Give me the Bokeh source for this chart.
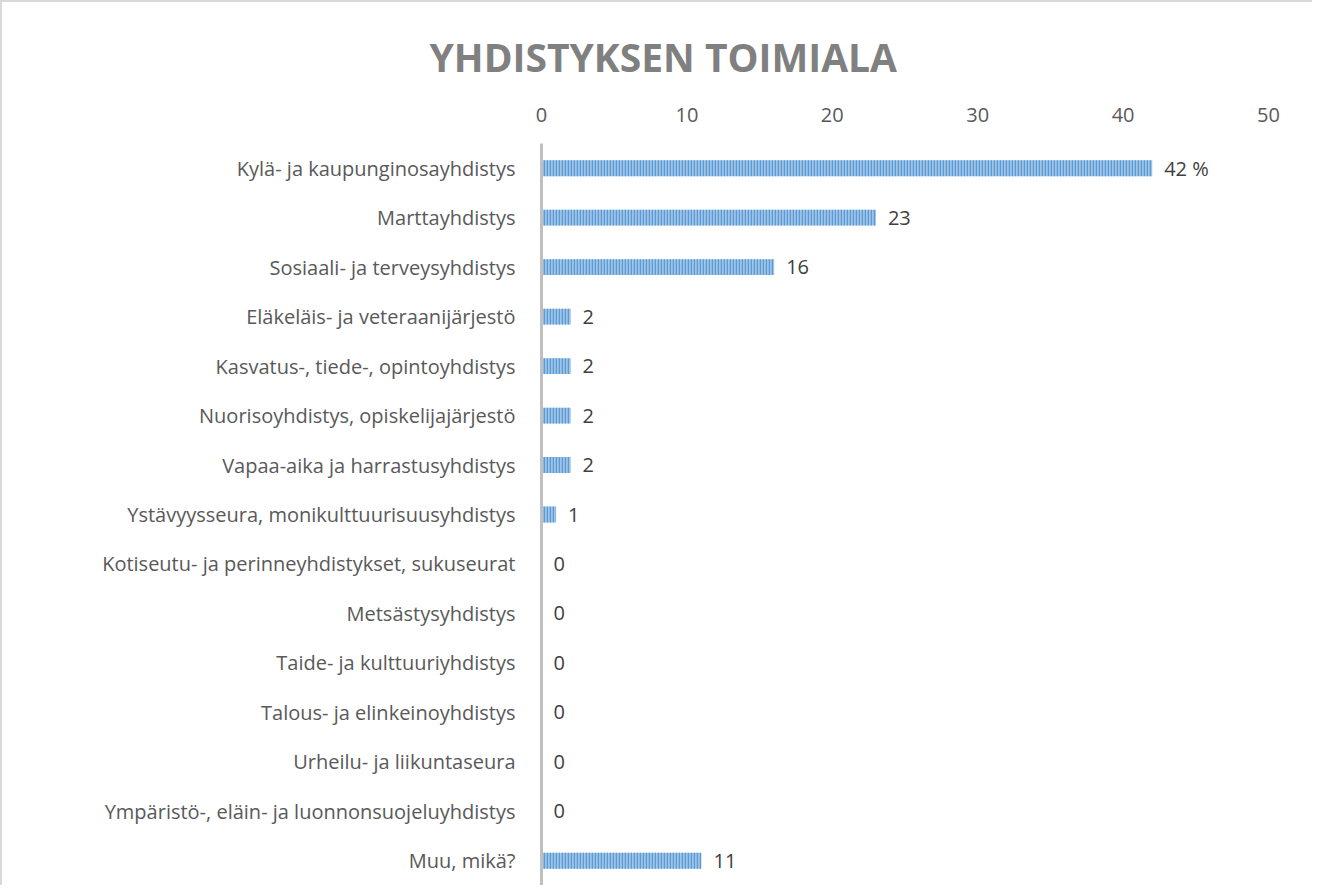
from bokeh.plotting import figure
from bokeh.models import ColumnDataSource, FactorRange, Range1d, FixedTicker
from bokeh.embed import file_html
from bokeh.resources import INLINE
from bokeh.core.properties import value

categories = [
    "Kylä- ja kaupunginosayhdistys",
    "Marttayhdistys",
    "Sosiaali- ja terveysyhdistys",
    "Eläkeläis- ja veteraanijärjestö",
    "Kasvatus-, tiede-, opintoyhdistys",
    "Nuorisoyhdistys, opiskelijajärjestö",
    "Vapaa-aika ja harrastusyhdistys",
    "Ystävyysseura, monikulttuurisuusyhdistys",
    "Kotiseutu- ja perinneyhdistykset, sukuseurat",
    "Metsästysyhdistys",
    "Taide- ja kulttuuriyhdistys",
    "Talous- ja elinkeinoyhdistys",
    "Urheilu- ja liikuntaseura",
    "Ympäristö-, eläin- ja luonnonsuojeluyhdistys",
    "Muu, mikä?",
]
values = [42, 23, 16, 2, 2, 2, 2, 1, 0, 0, 0, 0, 0, 0, 11]
value_labels = ["42 %", "23", "16", "2", "2", "2", "2", "1", "0", "0", "0", "0", "0", "0", "11"]
x_ticks = [0, 10, 20, 30, 40, 50]

src = ColumnDataSource(dict(cat=categories, val=values, lab=value_labels))

p = figure(
    y_range=FactorRange(factors=list(reversed(categories))),
    x_range=Range1d(0, 50),
    x_axis_location="above",
    frame_width=727, frame_height=742,
    min_border_left=539, min_border_right=44, min_border_top=141, min_border_bottom=0,
    output_backend="svg", toolbar_location=None,
    title="YHDISTYKSEN TOIMIALA",
)
p.styles = {"border-left": "2px solid #D9D9D9", "border-top": "2px solid #D9D9D9"}
p.title.align = "left"
p.title.offset = -112
p.title.text_font = "Open Sans"
p.title.text_font_size = "39px"
p.title.text_font_style = "bold"
p.title.text_color = "#808080"
p.title.standoff = 43

p.hbar(y="cat", right="val", left=0, height=0.32, source=src,
       fill_color="#9DC3E6", line_color=None,
       hatch_pattern="vertical_line", hatch_color="#5B9BD5", hatch_scale=3, hatch_weight=1.5)

p.text(x="val", y="cat", text="lab", source=src, x_offset=12,
       text_baseline="middle", text_align="left",
       text_font=value("Open Sans"), text_font_size="20px", text_color="#404040")

p.xaxis.ticker = FixedTicker(ticks=x_ticks)
p.xaxis.axis_line_color = None
p.xaxis.major_tick_line_color = None
p.xaxis.minor_tick_line_color = None
p.xaxis.major_label_text_font = "Open Sans"
p.xaxis.major_label_text_font_size = "20px"
p.xaxis.major_label_text_color = "#595959"
p.xaxis.major_label_standoff = 16

p.yaxis.axis_line_color = "#BFBFBF"
p.yaxis.axis_line_width = 3
p.yaxis.major_tick_line_color = None
p.yaxis.minor_tick_line_color = None
p.yaxis.major_label_text_font = "Open Sans"
p.yaxis.major_label_text_font_size = "20px"
p.yaxis.major_label_text_color = "#595959"
p.yaxis.major_label_standoff = 20

p.xgrid.grid_line_color = None
p.ygrid.grid_line_color = None
p.outline_line_color = None
p.background_fill_color = "white"
p.border_fill_color = "white"

open("out.html", "w").write(file_html(p, INLINE))
